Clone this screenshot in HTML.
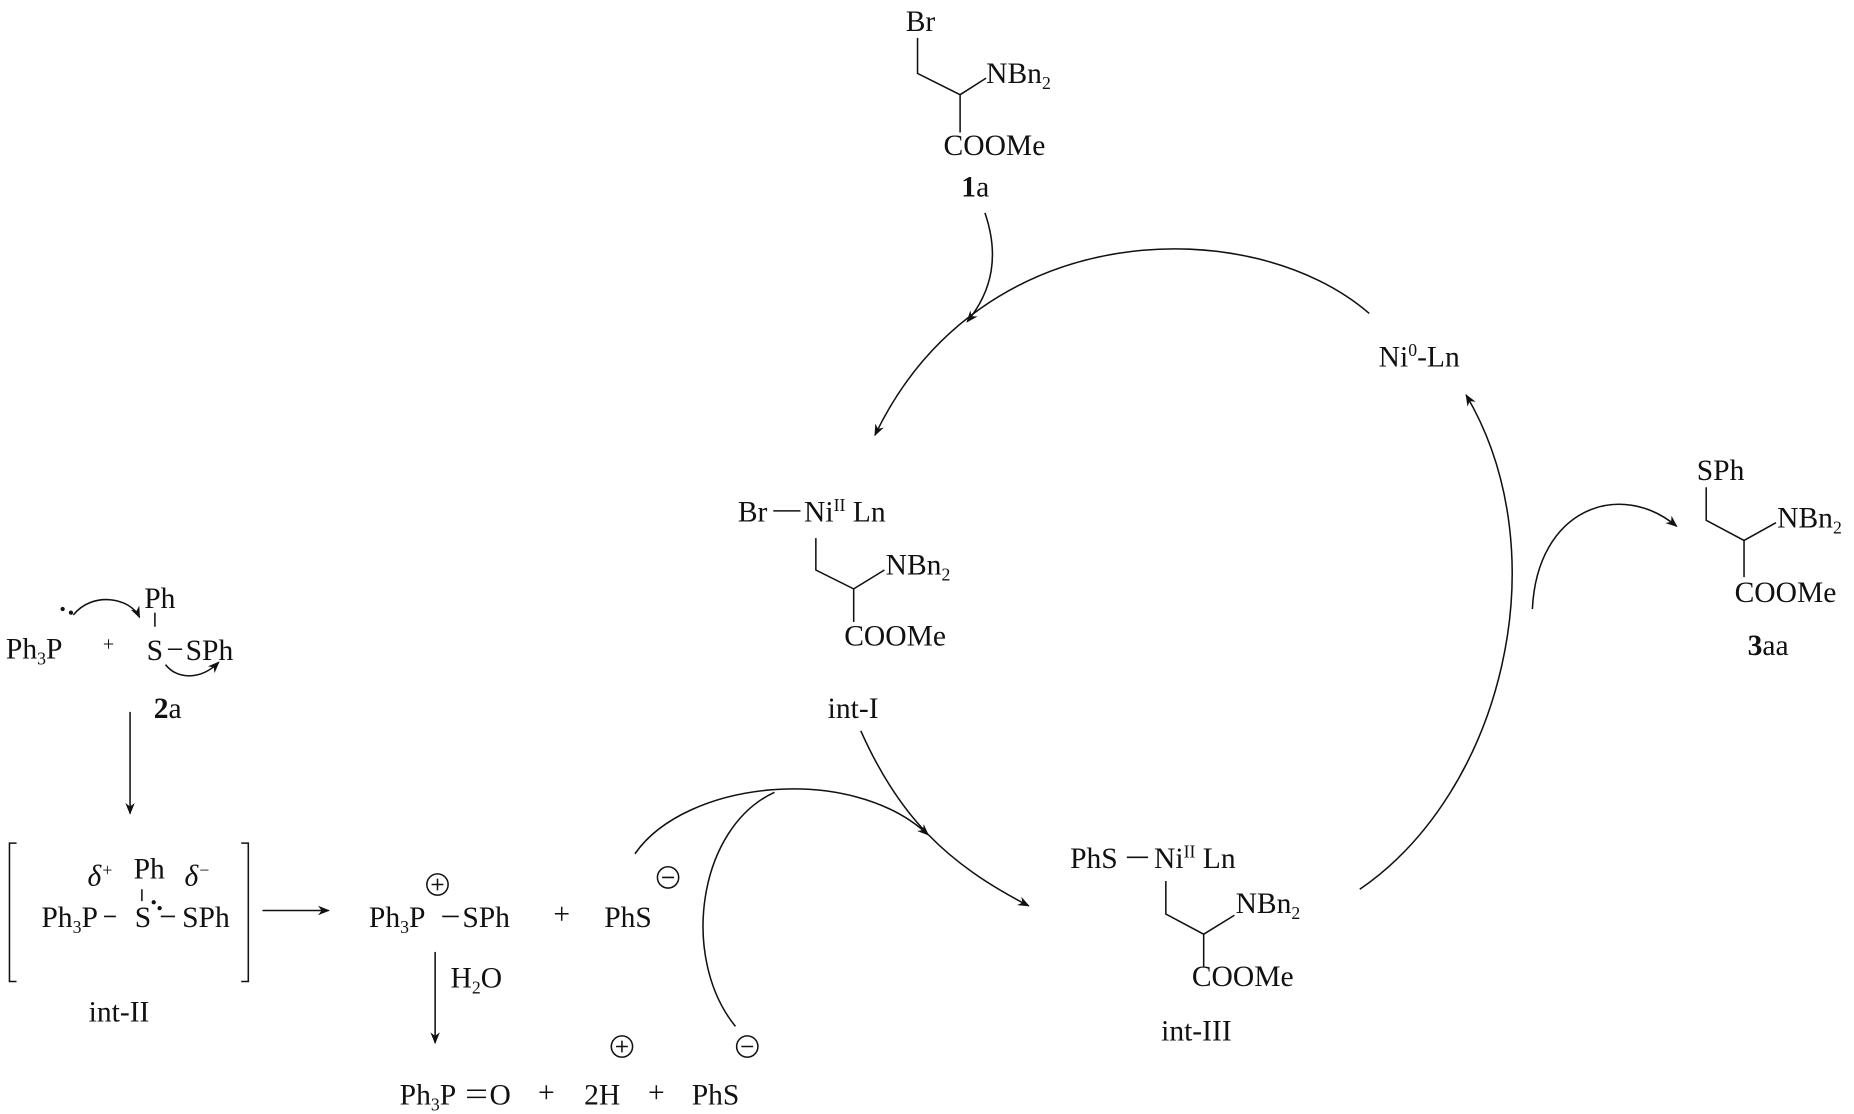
<!DOCTYPE html>
<html><head><meta charset="utf-8"><style>
html,body{margin:0;padding:0;background:#fff;}
svg{display:block;}
text{font-family:"Liberation Serif",serif;font-size:25px;fill:#111;}
.s{font-size:15px;}
</style></head><body>
<svg width="1854" height="1114" viewBox="0 0 1568 942" xmlns="http://www.w3.org/2000/svg">
<defs>
<marker id="a" viewBox="0 0 10 10" refX="9" refY="5" markerWidth="10" markerHeight="10" orient="auto-start-reverse" markerUnits="userSpaceOnUse"><path d="M0,1 L10,5 L0,9 L3,5 z" fill="#111"/></marker>
</defs>
<g stroke="#111" stroke-width="1.3" fill="none">
<path d="M776,32 L776,62 L812,80 L834,66 M812,80 L812,112"/>
<path d="M654,432 L677,432 M690,455 L690,482 L722,498 L748,482 M722,498 L722,526"/>
<path d="M1443,412 L1443,440 L1475,457 L1502,442 M1475,457 L1475,488"/>
<path d="M953,725 L971,725 M986,745 L986,773 L1018,790 L1044,774 M1018,790 L1018,818"/>
<path d="M833,180 C845,215 840,245 818,272" marker-end="url(#a)"/>
<path d="M1158,265 C1060,180 830,180 740,368" marker-end="url(#a)"/>
<path d="M1150,752 C1270,670 1320,470 1240,334" marker-end="url(#a)"/>
<path d="M1296,515 C1300,430 1370,405 1418,445" marker-end="url(#a)"/>
<path d="M728,618 C760,690 800,730 870,766" marker-end="url(#a)"/>
<path d="M537,722 C580,660 720,645 785,706" marker-end="url(#a)"/>
<path d="M655,670 C590,700 575,810 622,868"/>
<path d="M62,520 C78,500 110,505 118,522" marker-end="url(#a)"/>
<path d="M140,562 C150,575 170,575 185,560" marker-end="url(#a)"/>
<path d="M110,602 L110,688" marker-end="url(#a)"/>
<path d="M222,770 L278,770" marker-end="url(#a)"/>
<path d="M368,805 L368,882" marker-end="url(#a)"/>
<path d="M131,518 L131,530 M142,549 L154,549 M88,775 L98,775 M120,752 L120,762 M136,775 L148,775 M374,775 L388,775"/>
<path d="M14,713 L8,713 L8,830 L14,830 M204,713 L210,713 L210,830 L204,830"/>
<path d="M395,922 L411,922 M395,928 L411,928"/>
<circle cx="370" cy="748" r="9"/><circle cx="565" cy="742" r="9"/>
<circle cx="526" cy="885" r="9"/><circle cx="632" cy="885" r="9"/>
<path d="M365,748 L375,748 M370,743 L370,753 M560,742 L570,742 M521,885 L531,885 M526,880 L526,890 M627,885 L637,885"/>
</g>
<g fill="#111">
<circle cx="53" cy="515" r="1.8"/><circle cx="60" cy="518" r="1.8"/>
<circle cx="130" cy="763" r="1.8"/><circle cx="135" cy="768" r="1.8"/>
</g>
<text x="766" y="26">Br</text>
<text x="834" y="70">NBn<tspan class="s" dy="5">2</tspan></text>
<text x="798" y="131">COOMe</text>
<text x="813" y="166"><tspan font-weight="bold">1</tspan>a</text>
<text x="1166" y="310">Ni<tspan class="s" dy="-9">0</tspan><tspan dy="9">-Ln</tspan></text>
<text x="624" y="441">Br</text>
<text x="680" y="441">Ni<tspan class="s" dy="-9">II</tspan><tspan dy="9"> Ln</tspan></text>
<text x="749" y="486">NBn<tspan class="s" dy="5">2</tspan></text>
<text x="714" y="546">COOMe</text>
<text x="700" y="607">int-I</text>
<text x="1435" y="406">SPh</text>
<text x="1503" y="446">NBn<tspan class="s" dy="5">2</tspan></text>
<text x="1467" y="509">COOMe</text>
<text x="1478" y="554"><tspan font-weight="bold">3</tspan>aa</text>
<text x="905" y="734">PhS</text>
<text x="976" y="734">Ni<tspan class="s" dy="-9">II</tspan><tspan dy="9"> Ln</tspan></text>
<text x="1045" y="772">NBn<tspan class="s" dy="5">2</tspan></text>
<text x="1008" y="834">COOMe</text>
<text x="982" y="880">int-III</text>
<text x="5" y="557">Ph<tspan class="s" dy="5">3</tspan><tspan dy="-5">P</tspan></text>
<text x="87" y="550" style="font-size:17px">+</text>
<text x="122" y="514">Ph</text>
<text x="124" y="558">S</text>
<text x="157" y="558">SPh</text>
<text x="130" y="607"><tspan font-weight="bold">2</tspan>a</text>
<text x="74" y="749" font-style="italic">δ<tspan class="s" dy="-8">+</tspan></text>
<text x="113" y="743">Ph</text>
<text x="156" y="749" font-style="italic">δ<tspan class="s" dy="-8">−</tspan></text>
<text x="35" y="784">Ph<tspan class="s" dy="5">3</tspan><tspan dy="-5">P</tspan></text>
<text x="114" y="784">S</text>
<text x="154" y="784">SPh</text>
<text x="75" y="864">int-II</text>
<text x="312" y="784">Ph<tspan class="s" dy="5">3</tspan><tspan dy="-5">P</tspan></text>
<text x="391" y="784">SPh</text>
<text x="468" y="781">+</text>
<text x="511" y="784">PhS</text>
<text x="381" y="835">H<tspan class="s" dy="5">2</tspan><tspan dy="-5">O</tspan></text>
<text x="338" y="934">Ph<tspan class="s" dy="5">3</tspan><tspan dy="-5">P</tspan></text>
<text x="414" y="934">O</text>
<text x="455" y="932">+</text>
<text x="494" y="934">2H</text>
<text x="548" y="932">+</text>
<text x="585" y="934">PhS</text>
</svg>
</body></html>
